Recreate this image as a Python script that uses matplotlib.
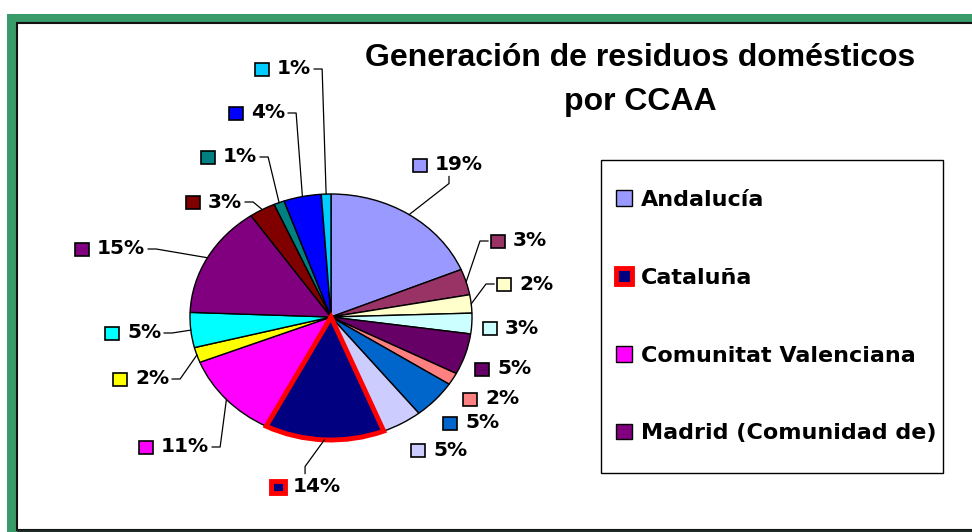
import numpy as np
import matplotlib.pyplot as plt
from matplotlib.patches import Rectangle
from matplotlib.lines import Line2D
from matplotlib.transforms import IdentityTransform

# Datos: porcentaje de residuos domésticos por comunidad autónoma
comunidades = ["Andalucía", "Aragón", "Asturias (Principado de)", "Balears (Illes)",
               "Canarias", "Cantabria", "Castilla y León", "Castilla - La Mancha",
               "Cataluña", "Comunitat Valenciana", "Extremadura", "Galicia",
               "Madrid (Comunidad de)", "Murcia (Región de)",
               "Navarra (Comunidad Foral de)", "País Vasco", "Rioja (La)"]
porcentajes = [18.7, 3.4, 2.4, 2.7, 5.4, 1.6, 5.1, 4.6, 13.7, 11.4,
               2.0, 4.6, 14.8, 3.0, 1.2, 4.3, 1.1]
colores = ["#9999FF", "#993366", "#FFFFCC", "#CCFFFF", "#660066", "#FF8080",
           "#0066CC", "#CCCCFF", "#000080", "#FF00FF", "#FFFF00", "#00FFFF",
           "#800080", "#800000", "#008080", "#0000FF", "#00CCFF"]
en_leyenda = ["Andalucía", "Cataluña", "Comunitat Valenciana", "Madrid (Comunidad de)"]

# posicion de cada etiqueta (centro del cuadradito, en pixeles de la imagen) y lado de la linea guia
pos_etiquetas = [(420, 165), (498, 241), (504, 284), (490, 328), (482, 369), (470, 399),
                 (450, 423), (418, 450), (278, 487), (146, 447), (120, 379), (112, 333),
                 (82, 249), (193, 202), (208, 157), (236, 113), (262, 69)]
lado = ['abajo', 'der', 'der', None, None, None, None, None, 'arriba',
        'izq', 'izq', 'izq', 'izq', 'izq', 'izq', 'izq', 'izq']

W, H = 972, 532
fig = plt.figure(figsize=(W / 100, H / 100), dpi=100)
px = IdentityTransform()

# marco verde (por debajo de los ejes)
fig.add_artist(Rectangle((7, 0), W - 7, H - 14, transform=px, facecolor='#389b69',
                         edgecolor='none', zorder=-3))
fig.add_artist(Rectangle((17, 2), W, 507, transform=px, facecolor='white',
                         edgecolor='#111111', lw=1.5, zorder=-2))
fig.add_artist(Rectangle((17, 0), W, 2, transform=px, facecolor='#1c2b25',
                         edgecolor='none', zorder=-2))

# tarta (eliptica como en Excel)
cx, cy, rx, ry = 331, 317, 141, 123
ax = fig.add_axes([(cx - rx) / W, (H - cy - ry) / H, 2 * rx / W, 2 * ry / H])
ax.patch.set_visible(False)
wedges, _ = ax.pie(porcentajes, colors=colores, startangle=90, counterclock=False,
                   wedgeprops=dict(edgecolor='black', linewidth=1))
ax.set_aspect('auto')
ax.set_xlim(-1, 1)
ax.set_ylim(-1, 1)
i_cat = comunidades.index("Cataluña")
wedges[i_cat].set_edgecolor('red')
wedges[i_cat].set_linewidth(3.5)
wedges[i_cat].set_zorder(5)

fig.text(640 / W, 1 - 80 / H, "Generación de residuos domésticos\npor CCAA",
         ha='center', va='center', fontsize=23, fontweight='bold',
         family='Liberation Sans', linespacing=1.6)

# etiquetas con cuadradito de color
total = sum(porcentajes)
acum = np.cumsum(porcentajes) - np.array(porcentajes) / 2
textos = []
for i, v in enumerate(porcentajes):
    bx, by = pos_etiquetas[i]
    y = H - by
    if i == i_cat:
        fig.add_artist(Rectangle((bx - 7, y - 6), 14, 12, transform=px, facecolor='#000080',
                                 edgecolor='red', lw=3.5))
    else:
        fig.add_artist(Rectangle((bx - 7, y - 6.5), 14, 13, transform=px, facecolor=colores[i],
                                 edgecolor='black', lw=1.2))
    t = fig.text((bx + 15) / W, y / H, f"{round(v / total * 100)}%", ha='left', va='center',
                 fontsize=14.5, fontweight='bold', family='DejaVu Sans')
    textos.append(t)

# lineas guia
fig.canvas.draw()
ren = fig.canvas.get_renderer()
for i, t in enumerate(textos):
    if lado[i] is None:
        continue
    ang = np.deg2rad(90 - 360 * acum[i] / total)
    px_x, px_y = ax.transData.transform((np.cos(ang), np.sin(ang)))
    bb = t.get_window_extent(ren)
    bx, by = pos_etiquetas[i]
    y = H - by
    if lado[i] == 'izq':
        a = (bb.x1 + 3, y)
        b = (a[0] + 8, y)
    elif lado[i] == 'der':
        a = (bx - 10, y)
        b = (a[0] - 8, y)
    elif lado[i] == 'abajo':
        a = ((bb.x0 + bb.x1) / 2 - 10, bb.y0 - 2)
        b = (a[0], a[1] - 7)
    else:
        a = ((bb.x0 + bb.x1) / 2 - 12, bb.y1 + 4)
        b = (a[0], a[1] + 7)
    fig.add_artist(Line2D([a[0], b[0], px_x], [a[1], b[1], px_y], transform=px,
                          color='black', lw=0.9))

# leyenda (solo las cuatro primeras que caben), marco dibujado aparte
fig.add_artist(Rectangle((601, H - 473), 342, 313, transform=px, facecolor='white',
                         edgecolor='black', lw=1))
handles = [wedges[comunidades.index(c)] for c in en_leyenda]
leg = fig.legend(handles, en_leyenda, loc='upper left', bbox_to_anchor=(616 / W, 1 - 190 / H),
                 frameon=False, prop=dict(family='DejaVu Sans', weight='bold', size=16),
                 handlelength=0.72, handleheight=0.72, handletextpad=0.4,
                 labelspacing=2.6, borderpad=0, borderaxespad=0)

fig.savefig("out.png", dpi=100)
